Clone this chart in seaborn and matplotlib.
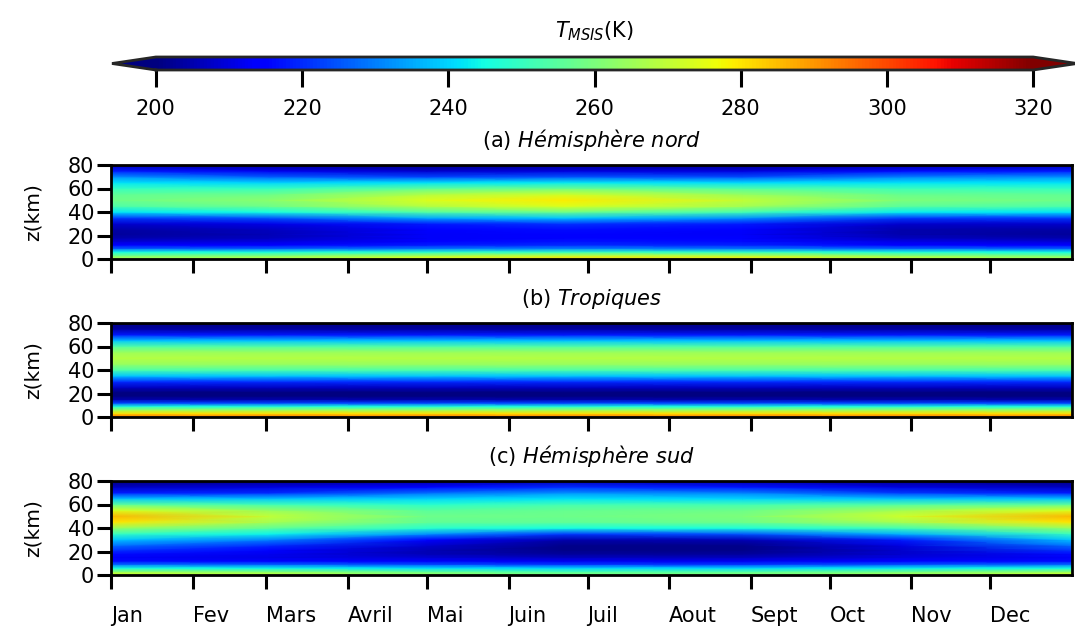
import numpy as np
import matplotlib
matplotlib.use("Agg")
import matplotlib.pyplot as plt
import seaborn as sns

sns.set_style("ticks")
plt.rcParams["font.family"] = ["DejaVu Sans"]
plt.rcParams["text.color"] = "black"
plt.rcParams["axes.labelcolor"] = "black"
plt.rcParams["xtick.color"] = "black"
plt.rcParams["ytick.color"] = "black"

# altitudes (km) and days of year where temperatures were read
z_km = [0, 3, 6, 9, 12, 15, 18, 21, 25, 30, 35, 40, 45, 50, 55, 60, 65, 70, 75, 80]
jours = [0, 60, 120, 172, 240, 300, 365]

mois_jours = [0, 31, 59, 90, 120, 151, 181, 212, 243, 273, 304, 334]
mois = ["Jan", "Fev", "Mars", "Avril", "Mai", "Juin", "Juil", "Aout", "Sept", "Oct", "Nov", "Dec"]

# T (K), one row per altitude, one column per day
t_nord = [
    [268, 270, 277, 282, 280, 272, 268],
    [258, 260, 266, 270, 268, 262, 258],
    [245, 246, 248, 250, 249, 246, 245],
    [226, 226, 229, 230, 229, 227, 226],
    [214, 214, 218, 220, 219, 215, 214],
    [209, 210, 215, 217, 216, 211, 209],
    [205, 207, 213, 215, 214, 207, 205],
    [203, 206, 213, 215, 213, 205, 203],
    [204, 207, 214, 216, 214, 205, 204],
    [208, 211, 218, 221, 218, 208, 208],
    [222, 225, 235, 238, 232, 222, 222],
    [242, 245, 254, 258, 252, 243, 242],
    [253, 258, 268, 274, 266, 255, 253],
    [258, 262, 274, 279, 270, 260, 258],
    [256, 258, 268, 272, 264, 257, 256],
    [250, 250, 256, 258, 254, 251, 250],
    [242, 240, 242, 243, 241, 242, 242],
    [232, 226, 223, 225, 224, 230, 232],
    [218, 212, 208, 210, 210, 216, 218],
    [206, 202, 200, 202, 201, 204, 206],
]

t_trop_profil = [296, 281, 265, 246, 223, 205, 197, 200, 207, 220,
                 238, 253, 264, 268, 265, 254, 238, 218, 204, 196]

t_sud = [
    [275, 272, 266, 262, 263, 268, 275],
    [262, 260, 255, 252, 253, 257, 262],
    [245, 244, 241, 240, 240, 243, 245],
    [228, 227, 224, 222, 222, 225, 228],
    [216, 215, 213, 212, 212, 214, 216],
    [213, 211, 209, 207, 207, 210, 213],
    [216, 212, 206, 203, 203, 208, 216],
    [221, 215, 206, 201, 201, 208, 221],
    [228, 220, 208, 201, 201, 210, 228],
    [238, 230, 215, 205, 206, 218, 238],
    [250, 244, 232, 222, 225, 236, 250],
    [264, 256, 248, 245, 246, 252, 264],
    [280, 266, 256, 256, 258, 266, 280],
    [286, 270, 258, 258, 260, 272, 286],
    [274, 264, 255, 257, 258, 266, 274],
    [256, 252, 248, 252, 252, 254, 256],
    [238, 238, 240, 242, 240, 238, 238],
    [218, 220, 228, 232, 230, 222, 218],
    [207, 210, 215, 220, 217, 210, 207],
    [200, 202, 204, 206, 205, 202, 200],
]

t_trop = np.repeat(np.array(t_trop_profil)[:, None], len(jours), axis=1)

panels = [
    ("(a) ", "Hémisphère\\ nord", np.array(t_nord), 259),
    ("(b) ", "Tropiques", t_trop, 417),
    ("(c) ", "Hémisphère\\ sud", np.array(t_sud), 575),
]

W, H = 1075, 630
fig = plt.figure(figsize=(W / 100, H / 100), dpi=100)

for i, (lettre, nom, T, ybas) in enumerate(panels):
    ax = fig.add_axes([111 / W, 1 - ybas / H, 961 / W, 94 / H])
    mesh = ax.pcolormesh(jours, z_km, T, shading="gouraud", cmap="jet",
                         vmin=200, vmax=320)
    ax.set_xlim(0, 365)
    ax.set_ylim(0, 80)
    ax.set_yticks([0, 20, 40, 60, 80])
    ax.set_xticks(mois_jours)
    if i == 2:
        ax.set_xticklabels(mois, ha="left")
    else:
        ax.set_xticklabels([])
    ax.set_ylabel("z(km)", fontsize=14.5, labelpad=18)
    ax.set_title(lettre + "$\\mathit{" + nom + "}$", fontsize=15, pad=13)
    ax.tick_params(axis="both", length=10, width=2.2, labelsize=15)
    ax.tick_params(axis="x", pad=12)
    ax.tick_params(axis="y", pad=2)
    for s in ax.spines.values():
        s.set_linewidth(2)
        s.set_color("black")

cax = fig.add_axes([112 / W, 1 - 70 / H, 965 / W, 13 / H])
cb = fig.colorbar(mesh, cax=cax, orientation="horizontal", extend="both",
                  ticks=list(range(200, 321, 20)))
cb.outline.set_linewidth(2)
cb.ax.tick_params(length=12, width=2.2, labelsize=15, pad=9)
cb.set_label("$T_{MSIS}$(K)", fontsize=15, labelpad=14)
cb.ax.xaxis.set_label_position("top")

fig.savefig("out.png", dpi=100)
